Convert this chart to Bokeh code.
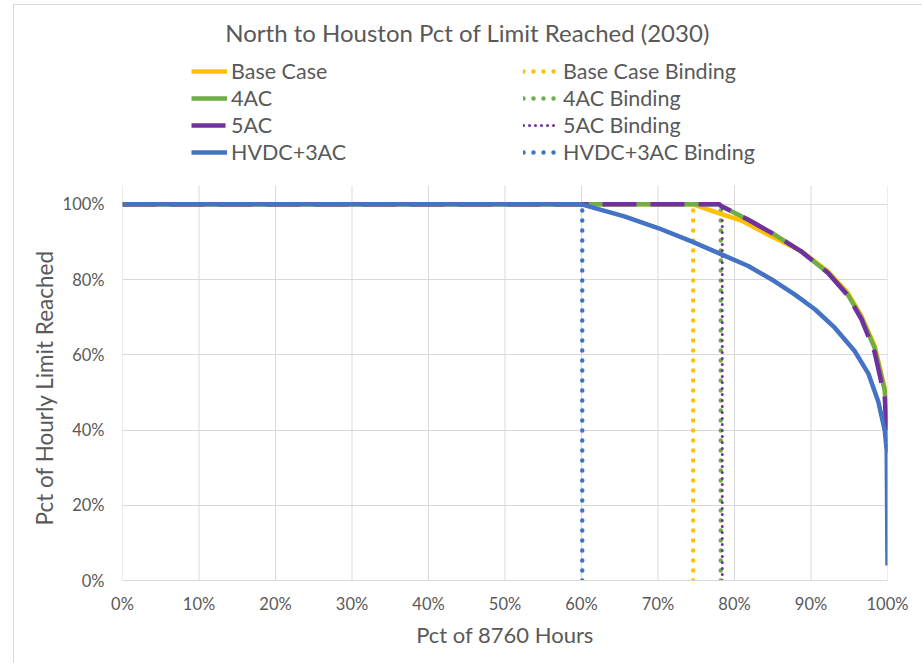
from bokeh.plotting import figure
from bokeh.models import (FixedTicker, NumeralTickFormatter, Legend, LegendItem,
                          Label, Range1d, InlineStyleSheet, Title)
from bokeh.embed import file_html
from bokeh.resources import INLINE

# Duration curves: share of the 8760 hours vs. share of hourly limit reached
base_x = [0.0, 0.746, 0.783, 0.809, 0.852, 0.887, 0.922, 0.948, 0.966, 0.983, 0.9965, 1.0]
base_y = [1.0, 1.0, 0.974, 0.957, 0.911, 0.876, 0.822, 0.765, 0.703, 0.625, 0.510, 0.37]

ac4_x = [0.0, 0.780, 0.783, 0.818, 0.852, 0.887, 0.922, 0.948, 0.966, 0.983, 0.9965, 1.0]
ac4_y = [1.0, 1.0, 0.995, 0.959, 0.920, 0.875, 0.818, 0.760, 0.698, 0.619, 0.504, 0.36]

ac5_x = [0.0, 0.780, 0.783, 0.818, 0.852, 0.887, 0.922, 0.948, 0.966, 0.983, 0.9965, 1.0]
ac5_y = [1.0, 1.0, 0.995, 0.959, 0.920, 0.875, 0.818, 0.758, 0.694, 0.608, 0.485, 0.34]

hvdc_x = [0.0, 0.600, 0.656, 0.700, 0.743, 0.783, 0.818, 0.852, 0.879, 0.905,
          0.931, 0.957, 0.975, 0.988, 0.9965, 0.999, 1.0]
hvdc_y = [1.0, 1.0, 0.968, 0.937, 0.902, 0.867, 0.836, 0.796, 0.760, 0.721,
          0.672, 0.610, 0.550, 0.475, 0.398, 0.345, 0.04]

# Point where each case stops binding at the limit
binding_x = {"Base Case": 0.746, "4AC": 0.782, "5AC": 0.784, "HVDC+3AC": 0.601}

x_ticks = [0.0, 0.1, 0.2, 0.3, 0.4, 0.5, 0.6, 0.7, 0.8, 0.9, 1.0]
y_ticks = [0.0, 0.2, 0.4, 0.6, 0.8, 1.0]
y_axis_max = 1.05      # top of the plotting area
y_canvas_top = 1.5418  # extra headroom above it holds the title and legend

YELLOW = "#FFC000"
GREEN = "#70AD47"
PURPLE = "#7030A0"
BLUE = "#4472C4"
TEXT = "#595959"
GRID = "#d9d9d9"
FONT = "Lato"

# light frame around the whole chart area
frame_css = InlineStyleSheet(css="""
:host::after {
  content: ""; position: absolute; left: 13px; top: 4px; right: 0; bottom: 0;
  border-top: 1px solid #d9d9d9; border-left: 1px solid #d9d9d9;
  pointer-events: none;
}
""")

p = figure(width=922, height=663, output_backend="svg", toolbar_location=None,
           x_range=Range1d(0, 1), y_range=Range1d(0, y_canvas_top),
           min_border_left=122, min_border_right=35,
           min_border_top=0, min_border_bottom=83,
           stylesheets=[frame_css])
p.outline_line_color = None
p.background_fill_color = "white"
p.border_fill_color = "white"

# vertical gridlines stop at the top of the plotting area
p.xgrid.visible = False
p.segment(x0=x_ticks, y0=[0] * len(x_ticks), x1=x_ticks, y1=[y_axis_max] * len(x_ticks),
          line_color=GRID, line_width=1)

# binding markers (drawn beneath the curves)
bind_style = {
    "Base Case": dict(color=YELLOW, width=4.5, dash="0 10"),
    "4AC": dict(color=GREEN, width=4.5, dash="0 10"),
    "5AC": dict(color=PURPLE, width=3, dash="0 6"),
    "HVDC+3AC": dict(color=BLUE, width=4.5, dash="0 10"),
}
bind_r = {}
for name in ["Base Case", "4AC", "5AC", "HVDC+3AC"]:
    s = bind_style[name]
    bx = binding_x[name]
    bind_r[name] = p.line([bx, bx], [0, 1], line_color=s["color"], line_width=s["width"],
                          line_dash=s["dash"], line_cap="round")

r_base = p.line(base_x, base_y, line_color=YELLOW, line_width=4.5, line_join="round")
r_4ac = p.line(ac4_x, ac4_y, line_color=GREEN, line_width=4.5, line_join="round")
r_5ac = p.line(ac5_x, ac5_y, line_color=PURPLE, line_width=4.5, line_dash="34 14",
               line_join="round")
r_hvdc = p.line(hvdc_x, hvdc_y, line_color=BLUE, line_width=4.5, line_join="round")

# axes
p.xaxis.ticker = FixedTicker(ticks=x_ticks)
p.yaxis.ticker = FixedTicker(ticks=y_ticks)
p.xaxis.formatter = NumeralTickFormatter(format="0%")
p.yaxis.formatter = NumeralTickFormatter(format="0%")
for ax in (p.xaxis, p.yaxis):
    ax.major_tick_line_color = None
    ax.minor_tick_line_color = None
    ax.major_tick_out = 0
    ax.major_tick_in = 0
    ax.major_label_text_font = FONT
    ax.major_label_text_font_size = "16.5px"
    ax.major_label_text_color = TEXT
p.xaxis.axis_line_color = GRID
p.yaxis.axis_line_color = None
p.xaxis.major_label_standoff = 13
p.yaxis.major_label_standoff = 18

p.xaxis.axis_label = "Pct of 8760 Hours"
p.xaxis.axis_label_text_font = FONT
p.xaxis.axis_label_text_font_size = "22px"
p.xaxis.axis_label_text_font_style = "normal"
p.xaxis.axis_label_text_color = TEXT
p.xaxis.axis_label_standoff = 4

# y title sits centred on the 0-100% span rather than on the whole frame
y_title = Title(text="Pct of Hourly Limit Reached", align="left", offset=55,
                vertical_align="bottom", standoff=4, text_font=FONT,
                text_font_size="22.5px", text_font_style="normal", text_color=TEXT)
p.add_layout(y_title, "left")

p.ygrid.ticker = FixedTicker(ticks=y_ticks)
p.ygrid.grid_line_color = GRID

# title
p.add_layout(Label(x=0.451, y=1.4567, text="North to Houston Pct of Limit Reached (2030)",
                   text_align="center", text_baseline="middle", text_font=FONT,
                   text_font_size="24px", text_color=TEXT))

legend = Legend(items=[
    LegendItem(label="Base Case", renderers=[r_base]),
    LegendItem(label="4AC", renderers=[r_4ac]),
    LegendItem(label="5AC", renderers=[r_5ac]),
    LegendItem(label="HVDC+3AC", renderers=[r_hvdc]),
    LegendItem(label="Base Case Binding", renderers=[bind_r["Base Case"]]),
    LegendItem(label="4AC Binding", renderers=[bind_r["4AC"]]),
    LegendItem(label="5AC Binding", renderers=[bind_r["5AC"]]),
    LegendItem(label="HVDC+3AC Binding", renderers=[bind_r["HVDC+3AC"]]),
], location=(69, 415), orientation="vertical", nrows=4)
legend.border_line_color = None
legend.background_fill_alpha = 0
legend.padding = 0
legend.margin = 0
legend.spacing = 1
legend.glyph_width = 36
legend.glyph_height = 20
legend.label_height = 20
legend.label_width = 291
legend.label_standoff = 4
legend.label_text_font = FONT
legend.label_text_font_size = "21.5px"
legend.label_text_color = TEXT
legend.label_text_baseline = "middle"
p.add_layout(legend, "center")

open("out.html", "w").write(file_html(p, INLINE))
